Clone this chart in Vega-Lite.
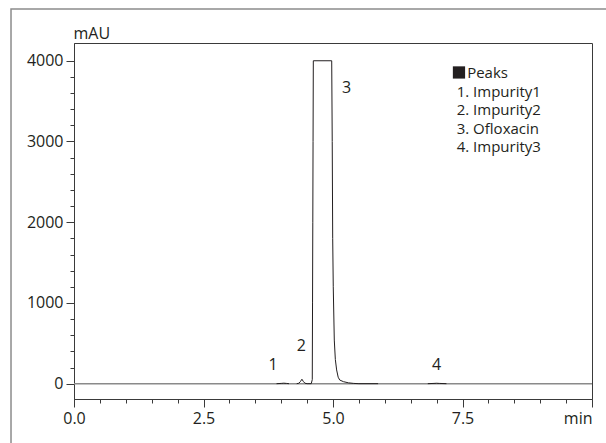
{
  "$schema": "https://vega.github.io/schema/vega-lite/v6.json",
  "width": 518,
  "height": 356,
  "autosize": {"type": "none"},
  "padding": {"left": 74, "top": 43, "right": 14, "bottom": 44},
  "background": "white",
  "config": {
    "view": {"stroke": "#3a3a3a", "strokeWidth": 1},
    "font": "Open Sans",
    "axis": {
      "grid": false,
      "labelFont": "Open Sans",
      "labelFontSize": 16,
      "labelColor": "#231f20",
      "domainColor": "#3a3a3a",
      "tickColor": "#3a3a3a",
      "titleFont": "Open Sans",
      "titleFontSize": 16,
      "titleColor": "#231f20",
      "titleFontWeight": "normal"
    },
    "text": {"font": "Open Sans", "fontSize": 16, "color": "#231f20"}
  },
  "datasets": {
    "chrom": [
      {"t": 3.91, "mAU": 0, "seg": "A"},
      {"t": 4.0, "mAU": 3, "seg": "A"},
      {"t": 4.05, "mAU": 6, "seg": "A"},
      {"t": 4.1, "mAU": 3, "seg": "A"},
      {"t": 4.15, "mAU": 0, "seg": "A"},
      {"t": 4.30, "mAU": 0, "seg": "B"},
      {"t": 4.34, "mAU": 5, "seg": "B"},
      {"t": 4.37, "mAU": 25, "seg": "B"},
      {"t": 4.40, "mAU": 55, "seg": "B"},
      {"t": 4.43, "mAU": 25, "seg": "B"},
      {"t": 4.46, "mAU": 5, "seg": "B"},
      {"t": 4.50, "mAU": 0, "seg": "B"},
      {"t": 4.58, "mAU": 0, "seg": "B"},
      {"t": 4.60, "mAU": 50, "seg": "B"},
      {"t": 4.605, "mAU": 1000, "seg": "B"},
      {"t": 4.61, "mAU": 2000, "seg": "B"},
      {"t": 4.615, "mAU": 3000, "seg": "B"},
      {"t": 4.62, "mAU": 4000, "seg": "B"},
      {"t": 4.975, "mAU": 4000, "seg": "B"},
      {"t": 4.985, "mAU": 3000, "seg": "B"},
      {"t": 4.994, "mAU": 1800, "seg": "B"},
      {"t": 5.005, "mAU": 1200, "seg": "B"},
      {"t": 5.025, "mAU": 540, "seg": "B"},
      {"t": 5.045, "mAU": 300, "seg": "B"},
      {"t": 5.07, "mAU": 170, "seg": "B"},
      {"t": 5.10, "mAU": 80, "seg": "B"},
      {"t": 5.13, "mAU": 45, "seg": "B"},
      {"t": 5.2, "mAU": 25, "seg": "B"},
      {"t": 5.3, "mAU": 10, "seg": "B"},
      {"t": 5.4, "mAU": 3, "seg": "B"},
      {"t": 5.5, "mAU": 0, "seg": "B"},
      {"t": 5.87, "mAU": 0, "seg": "B"},
      {"t": 6.83, "mAU": 0, "seg": "C"},
      {"t": 6.95, "mAU": 3, "seg": "C"},
      {"t": 7.0, "mAU": 5, "seg": "C"},
      {"t": 7.05, "mAU": 3, "seg": "C"},
      {"t": 7.19, "mAU": 0, "seg": "C"}
    ],
    "peaks": [
      {"t": 3.842, "mAU": 232, "label": "1"},
      {"t": 4.39, "mAU": 470, "label": "2"},
      {"t": 5.26, "mAU": 3660, "label": "3"},
      {"t": 7.0, "mAU": 232, "label": "4"}
    ],
    "legendMark": [
      {"t": 7.432, "mAU": 3855, "label": "Peaks"}
    ],
    "legendText": [
      {"t": 7.59, "mAU": 3845, "label": "Peaks"},
      {"t": 7.388, "mAU": 3610, "label": "1. Impurity1"},
      {"t": 7.388, "mAU": 3385, "label": "2. Impurity2"},
      {"t": 7.388, "mAU": 3160, "label": "3. Ofloxacin"},
      {"t": 7.388, "mAU": 2935, "label": "4. Impurity3"}
    ]
  },
  "resolve": {"axis": {"x": "independent", "y": "independent"}},
  "layer": [
    {
      "data": {"values": [{}]},
      "mark": {"type": "rect", "filled": false, "stroke": "#8c8c8c", "strokeWidth": 1.5, "clip": false},
      "encoding": {
        "x": {"datum": -1.216, "type": "quantitative", "scale": {"domain": [0, 10], "nice": false, "zero": false}, "axis": null},
        "x2": {"datum": 11},
        "y": {"datum": 4642, "type": "quantitative", "scale": {"domain": [-190, 4220], "nice": false, "zero": false}, "axis": null},
        "y2": {"datum": -1500}
      }
    },
    {
      "data": {"values": [{}]},
      "mark": {"type": "rule", "color": "#8a8a8a", "strokeWidth": 1.5},
      "encoding": {
        "x": {"datum": 0, "type": "quantitative", "scale": {"domain": [0, 10], "nice": false, "zero": false},
          "axis": {"orient": "bottom", "values": [0.5, 1, 1.5, 2, 3, 3.5, 4, 4.5, 5.5, 6, 6.5, 7, 8, 8.5, 9, 9.5], "labels": false, "domain": false, "tickSize": 4, "title": null, "grid": false}},
        "x2": {"datum": 10},
        "y": {"datum": 0, "type": "quantitative", "scale": {"domain": [-190, 4220], "nice": false, "zero": false},
          "axis": {"orient": "left", "values": [200, 400, 600, 800, 1200, 1400, 1600, 1800, 2200, 2400, 2600, 2800, 3200, 3400, 3600, 3800], "labels": false, "domain": false, "tickSize": 4, "title": null, "grid": false}}
      }
    },
    {
      "data": {"name": "chrom"},
      "mark": {"type": "line", "color": "#231f20", "strokeWidth": 1},
      "encoding": {
        "x": {"field": "t", "type": "quantitative", "scale": {"domain": [0, 10], "nice": false, "zero": false},
          "axis": {"orient": "bottom", "values": [0, 2.5, 5, 7.5, 10], "labelExpr": "datum.value == 10 ? 'min' : format(datum.value, '.1f')",
            "labelAlign": {"condition": {"test": "datum.value == 10", "value": "right"}, "value": "center"},
            "labelFlush": false, "tickSize": 8, "labelPadding": 3, "title": null}},
        "y": {"field": "mAU", "type": "quantitative", "scale": {"domain": [-190, 4220], "nice": false, "zero": false},
          "axis": {"orient": "left", "values": [0, 1000, 2000, 3000, 4000], "format": "d", "tickSize": 8, "labelPadding": 3, "labelFlush": false,
            "title": "mAU", "titleAngle": 0, "titleX": -1, "titleY": -10, "titleAlign": "left", "titleBaseline": "middle"}},
        "detail": {"field": "seg"}
      }
    },
    {
      "data": {"name": "peaks"},
      "mark": {"type": "text", "align": "center", "baseline": "middle"},
      "encoding": {
        "x": {"field": "t", "type": "quantitative", "scale": {"domain": [0, 10], "nice": false, "zero": false}, "axis": null},
        "y": {"field": "mAU", "type": "quantitative", "scale": {"domain": [-190, 4220], "nice": false, "zero": false}, "axis": null},
        "text": {"field": "label"}
      }
    },
    {
      "data": {"name": "legendMark"},
      "mark": {"type": "point", "shape": "square", "filled": true, "color": "#231f20", "size": 150, "opacity": 1},
      "encoding": {
        "x": {"field": "t", "type": "quantitative", "scale": {"domain": [0, 10], "nice": false, "zero": false}, "axis": null},
        "y": {"field": "mAU", "type": "quantitative", "scale": {"domain": [-190, 4220], "nice": false, "zero": false}, "axis": null}
      }
    },
    {
      "data": {"name": "legendText"},
      "mark": {"type": "text", "align": "left", "baseline": "middle", "fontSize": 15},
      "encoding": {
        "x": {"field": "t", "type": "quantitative", "scale": {"domain": [0, 10], "nice": false, "zero": false}, "axis": null},
        "y": {"field": "mAU", "type": "quantitative", "scale": {"domain": [-190, 4220], "nice": false, "zero": false}, "axis": null},
        "text": {"field": "label"}
      }
    }
  ]
}
